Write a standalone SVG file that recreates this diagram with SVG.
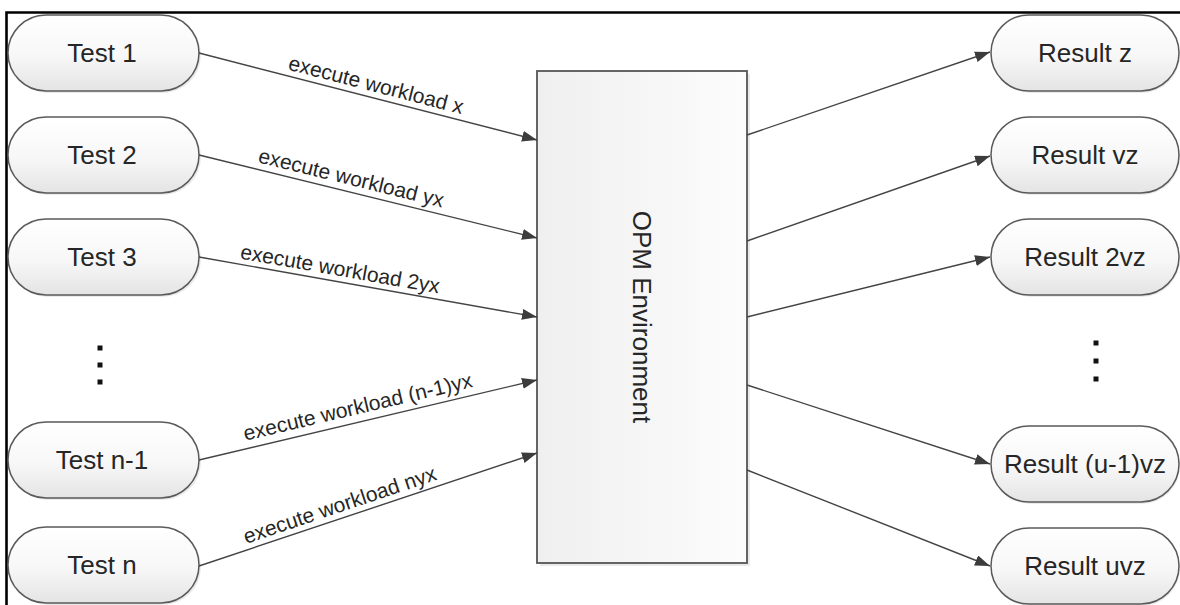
<svg xmlns="http://www.w3.org/2000/svg" width="1180" height="605" viewBox="0 0 1180 605">
  <defs>
    <linearGradient id="pillFill" x1="0" y1="0" x2="0" y2="1">
      <stop offset="0" stop-color="#ffffff"/>
      <stop offset="0.55" stop-color="#f7f7f7"/>
      <stop offset="1" stop-color="#e4e4e4"/>
    </linearGradient>
    <linearGradient id="boxFill" x1="0" y1="0" x2="1" y2="0">
      <stop offset="0" stop-color="#efefef"/>
      <stop offset="1" stop-color="#fcfcfc"/>
    </linearGradient>
    <marker id="arrow" markerUnits="userSpaceOnUse" markerWidth="16" markerHeight="12" refX="15" refY="5.5" orient="auto">
      <path d="M0,0 L15,5.5 L0,11 Z" fill="#3c3c3c"/>
    </marker>
  </defs>
  <style>
    .pill { fill: url(#pillFill); stroke: #5a5a5a; stroke-width: 1.5; }
    .shadow { fill: #d8d8d8; opacity: 0.55; }
    .box { fill: url(#boxFill); stroke: #555555; stroke-width: 1.8; }
    .node-text { font-family: "Liberation Sans", Arial, sans-serif; font-size: 26px; fill: #262626; text-anchor: middle; }
    .label { font-family: "Liberation Sans", Arial, sans-serif; font-size: 21px; fill: #262626; text-anchor: middle; }
    .wire { stroke: #444444; stroke-width: 1.4; fill: none; marker-end: url(#arrow); }
    .dot { fill: #111111; }
    .frame { stroke: #000000; stroke-width: 2.6; fill: none; }
  </style>

  <rect width="1180" height="605" fill="#ffffff"/>

  <!-- frame edges (top and left) -->
  <path class="frame" d="M6.5,605 L6.5,12.5 L1180,12.5"/>

  <!-- central environment block -->
  <g id="opm-environment">
    <rect class="shadow" x="540" y="74" width="210" height="492"/>
    <rect class="box" x="537" y="71" width="210" height="492"/>
    <text class="node-text" transform="translate(642,317) rotate(90)" y="9">OPM Environment</text>
  </g>

  <!-- test nodes -->
  <g id="test-1">
    <rect class="shadow" x="10" y="17" width="191" height="76" rx="38"/>
    <rect class="pill" x="8" y="15" width="191" height="76" rx="38"/>
    <text class="node-text" x="102" y="62">Test 1</text>
  </g>
  <g id="test-2">
    <rect class="shadow" x="10" y="119" width="191" height="76" rx="38"/>
    <rect class="pill" x="8" y="117" width="191" height="76" rx="38"/>
    <text class="node-text" x="102" y="164">Test 2</text>
  </g>
  <g id="test-3">
    <rect class="shadow" x="10" y="221" width="191" height="76" rx="38"/>
    <rect class="pill" x="8" y="219" width="191" height="76" rx="38"/>
    <text class="node-text" x="102" y="266">Test 3</text>
  </g>
  <g id="test-ellipsis">
    <rect class="dot" x="97.5" y="345.5" width="5" height="5"/>
    <rect class="dot" x="97.5" y="362.5" width="5" height="5"/>
    <rect class="dot" x="97.5" y="379.5" width="5" height="5"/>
  </g>
  <g id="test-n-1">
    <rect class="shadow" x="10" y="424" width="191" height="76" rx="38"/>
    <rect class="pill" x="8" y="422" width="191" height="76" rx="38"/>
    <text class="node-text" x="102" y="469">Test n-1</text>
  </g>
  <g id="test-n">
    <rect class="shadow" x="10" y="529" width="191" height="76" rx="38"/>
    <rect class="pill" x="8" y="527" width="191" height="76" rx="38"/>
    <text class="node-text" x="102" y="574">Test n</text>
  </g>

  <!-- result nodes -->
  <g id="result-z">
    <rect class="shadow" x="993" y="17" width="187" height="76" rx="38"/>
    <rect class="pill" x="991" y="15" width="188" height="76" rx="38"/>
    <text class="node-text" x="1085" y="62">Result z</text>
  </g>
  <g id="result-vz">
    <rect class="shadow" x="993" y="119" width="187" height="76" rx="38"/>
    <rect class="pill" x="991" y="117" width="188" height="76" rx="38"/>
    <text class="node-text" x="1085" y="164">Result vz</text>
  </g>
  <g id="result-2vz">
    <rect class="shadow" x="993" y="221" width="187" height="76" rx="38"/>
    <rect class="pill" x="991" y="219" width="188" height="76" rx="38"/>
    <text class="node-text" x="1085" y="266">Result 2vz</text>
  </g>
  <g id="result-ellipsis">
    <rect class="dot" x="1093.5" y="340.5" width="5" height="5"/>
    <rect class="dot" x="1093.5" y="358.5" width="5" height="5"/>
    <rect class="dot" x="1093.5" y="376.5" width="5" height="5"/>
  </g>
  <g id="result-u-1-vz">
    <rect class="shadow" x="993" y="428" width="187" height="76" rx="38"/>
    <rect class="pill" x="991" y="426" width="188" height="76" rx="38"/>
    <text class="node-text" x="1085" y="473">Result (u-1)vz</text>
  </g>
  <g id="result-uvz">
    <rect class="shadow" x="993" y="530" width="187" height="76" rx="38"/>
    <rect class="pill" x="991" y="528" width="188" height="76" rx="38"/>
    <text class="node-text" x="1085" y="575">Result uvz</text>
  </g>

  <!-- connectors -->
  <g id="connectors">
    <line class="wire" x1="199" y1="53" x2="537" y2="140"/>
    <line class="wire" x1="199" y1="155" x2="537" y2="238"/>
    <line class="wire" x1="199" y1="257" x2="537" y2="317"/>
    <line class="wire" x1="199" y1="460" x2="537" y2="380"/>
    <line class="wire" x1="199" y1="566" x2="537" y2="453"/>

    <line class="wire" x1="747" y1="135" x2="990" y2="52"/>
    <line class="wire" x1="747" y1="241" x2="990" y2="156"/>
    <line class="wire" x1="747" y1="317" x2="990" y2="257"/>
    <line class="wire" x1="747" y1="385" x2="990" y2="464"/>
    <line class="wire" x1="747" y1="470" x2="990" y2="566"/>

    <text class="label" transform="translate(376,85) rotate(14.4)" y="7">execute workload x</text>
    <text class="label" transform="translate(351,179) rotate(13.8)" y="6">execute workload yx</text>
    <text class="label" transform="translate(340,270) rotate(10)" y="6">execute workload 2yx</text>
    <text class="label" transform="translate(358,408) rotate(-13.3)" y="6">execute workload (n-1)yx</text>
    <text class="label" transform="translate(340,506) rotate(-18.6)" y="6">execute workload nyx</text>
  </g>
</svg>
